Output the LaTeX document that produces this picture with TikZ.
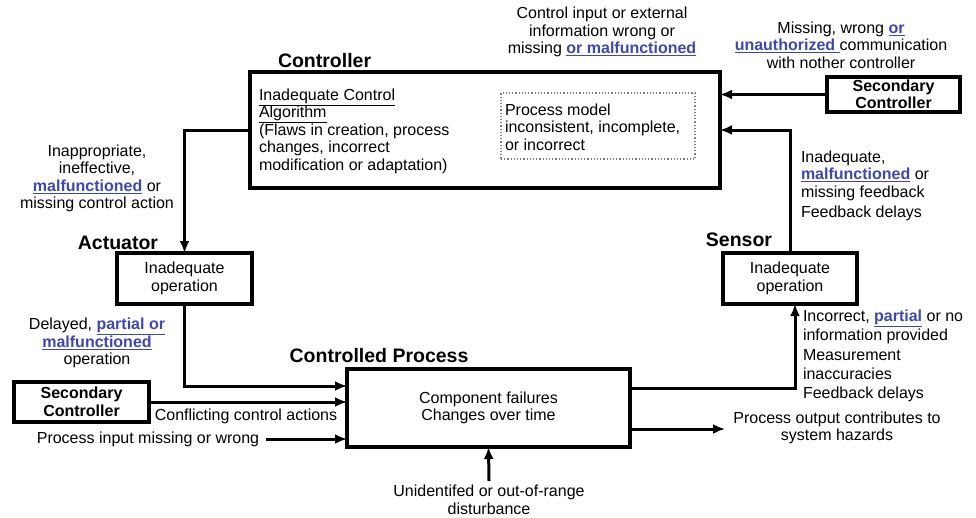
\documentclass[tikz,border=0pt]{standalone}
\usepackage{fontspec}
\setmainfont{Liberation Sans}
\usetikzlibrary{arrows.meta}
\definecolor{linkblue}{RGB}{62,72,170}
\newcommand{\lnk}[1]{{\color{linkblue}\bfseries\underline{#1}}}
\begin{document}
\begin{tikzpicture}[x=1pt,y=-1pt,
  every node/.style={inner sep=0pt,outer sep=0pt},
  txt/.style={font=\fontsize{16}{17.5}\selectfont,align=center},
  txtl/.style={font=\fontsize{16}{17.5}\selectfont,align=left},
  title/.style={font=\fontsize{19.5}{22}\selectfont\bfseries},
  box/.style={draw,line width=3.2pt,txt},
  arr/.style={line width=3pt,-{Latex[length=12pt,width=10pt]}}]
\useasboundingbox (0,0) rectangle (976,517);

% boxes
\node[box,minimum width=470,minimum height=116] (ctrl) at (485,130) {};
\node[box,minimum width=135,minimum height=51] (act) at (184.5,278.5) {Inadequate\\operation};
\node[box,minimum width=134,minimum height=51] (sens) at (790,278.5) {Inadequate\\operation};
\node[box,minimum width=283,minimum height=78] (proc) at (488.5,408) {Component failures\\Changes over time};
\node[box,minimum width=133,minimum height=35,font=\fontsize{16}{17.5}\selectfont\bfseries] (sctop) at (893.5,94.5) {Secondary\\Controller};
\node[box,minimum width=135,minimum height=40,font=\fontsize{16}{17.5}\selectfont\bfseries] (scleft) at (81.5,402) {Secondary\\Controller};

% controller contents
\node[txtl,anchor=west] (alg) at (259,131) {\underline{Inadequate Control}\\\underline{Algorithm}\\(Flaws in creation, process\\changes, incorrect\\modification or adaptation)};
\node[draw=gray,dotted,line width=1.2pt,minimum width=194,minimum height=66] (pm) at (598,126) {};
\node[txtl,anchor=west] (pmtxt) at (505,127) {Process model\\inconsistent, incomplete,\\or incorrect};

% titles
\node[title,anchor=west] (tctrl) at (278,61) {Controller};
\node[title] (tact) at (118,243) {Actuator};
\node[title] (tsens) at (739,240) {Sensor};
\node[title] (tproc) at (379,356) {Controlled Process};

% free ends of connectors
\coordinate (pin) at (266,439);
\coordinate (pout) at (725,429);
\coordinate (dist) at (489,481);

% connectors
\draw[arr] (sctop.west) -- (sctop.west -| ctrl.east);
\draw[arr] (sens.north) |- (ctrl.east);
\draw[arr] (ctrl.west) -| (act.north);
\draw[arr] (act.south) |- ([yshift=22pt]proc.west);
\draw[arr] (scleft.east) -- (scleft.east -| proc.west);
\draw[arr] (pin) -- (pin -| proc.west);
\draw[arr] (pout -| proc.east) -- (pout);
\draw[arr] (dist) -- (proc.south);
\draw[arr] ([yshift=20pt]proc.east) -| ([xshift=5pt]sens.south);

% labels
\node[txt] (lcin) at (602,32) {Control input or external\\information wrong or\\missing \lnk{or malfunctioned}};
\node[txt] (lcomm) at (841,45) {Missing, wrong \lnk{or}\\\lnk{unauthorized }communication\\with nother controller};
\node[txtl,anchor=west] (lfb) at (801,185.5) {Inadequate,\\\lnk{malfunctioned} or\\missing feedback\\[2.5pt]Feedback delays};
\node[txt] (lca) at (97,178.5) {Inappropriate,\\ineffective,\\\lnk{malfunctioned} or\\missing control action};
\node[txt] (ldel) at (97,343) {Delayed, \lnk{partial or}\\\lnk{malfunctioned}\\operation};
\node[txtl,anchor=west,font=\fontsize{16}{19.2}\selectfont] (lsens) at (803,356) {Incorrect, \lnk{partial} or no\\information provided\\Measurement\\inaccuracies\\Feedback delays};
\node[txt] (lconf) at (246,416) {Conflicting control actions};
\node[txt] (lpin) at (148,439) {Process input missing or wrong};
\node[txt] (lpout) at (837,428) {Process output contributes to\\system hazards};
\node[txt] (ldist) at (489,500) {Unidentifed or out-of-range\\disturbance};
\end{tikzpicture}
\end{document}
